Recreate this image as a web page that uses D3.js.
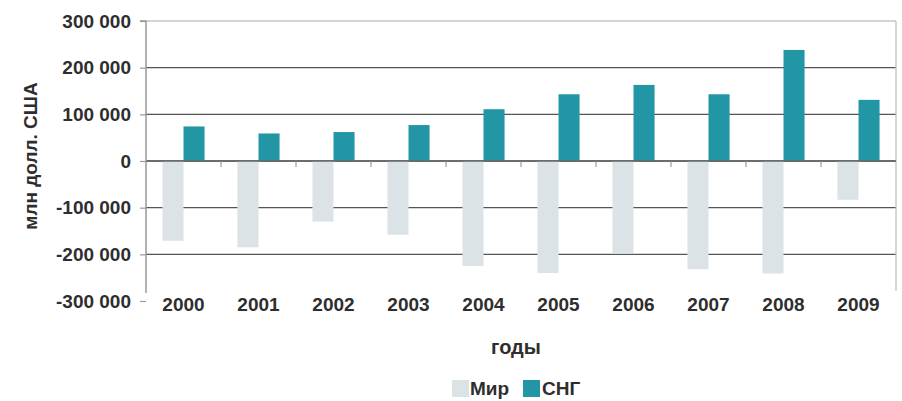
<!DOCTYPE html>
<html><head><meta charset="utf-8">
<script src="https://cdn.jsdelivr.net/npm/d3@7"></script>
<style>
body{margin:0;background:#fff;}
text{font-family:"Liberation Sans",Arial,sans-serif;font-weight:bold;fill:#2e2e2e;}
</style></head>
<body><svg id="c" width="902" height="401"></svg>
<script>
const years = ["2000","2001","2002","2003","2004","2005","2006","2007","2008","2009"];
const world = [-171000,-185000,-130000,-158000,-225000,-240000,-198000,-232000,-241000,-83000];
const cis = [74000,59000,62000,77000,111000,143000,163000,143000,238000,131000];
const yTicks = [300000,200000,100000,0,-100000,-200000,-300000];
const seriesNames = ["Мир","СНГ"];
const colors = ["#dce3e7","#2296a5"];

const svg = d3.select("#c");
const pL = 146, pR = 896, pT = 21, pB = 301;
const x = d3.scaleBand().domain(years).range([pL,pR]).padding(0);
const xi = d3.scaleBand().domain(seriesNames).range([0,x.bandwidth()]).paddingInner(0).paddingOuter(0.78);
const y = d3.scaleLinear().domain([-300000,300000]).range([pB,pT]);
const fmt = v => d3.format(",")(v).replace(/,/g," ").replace("−","-");

// gridlines
svg.append("g").selectAll("line").data(yTicks.filter(v=>v>-300000)).join("line")
  .attr("x1",pL).attr("x2",pR).attr("y1",d=>y(d)).attr("y2",d=>y(d))
  .attr("stroke",d=>d===300000?"#aaa":"#555").attr("stroke-width",d=>d===300000?1.2:1.4);
// right border
svg.append("line").attr("x1",pR).attr("x2",pR).attr("y1",pT).attr("y2",pB-10)
  .attr("stroke","#bbb").attr("stroke-width",1.2);

// bars
const data = years.map((yr,i)=>({yr, vals:[world[i],cis[i]]}));
const g = svg.append("g");
data.forEach(d=>{
  d.vals.forEach((v,k)=>{
    g.append("rect")
      .attr("x",x(d.yr)+xi(seriesNames[k]))
      .attr("width",xi.bandwidth())
      .attr("y",Math.min(y(v),y(0)))
      .attr("height",Math.abs(y(v)-y(0)))
      .attr("fill",colors[k]);
  });
});

// zero line on top
svg.append("line").attr("x1",pL).attr("x2",pR).attr("y1",y(0)).attr("y2",y(0))
  .attr("stroke","#666").attr("stroke-width",1.3);
// category ticks
svg.append("g").selectAll("line").data(years.slice(1)).join("line")
  .attr("x1",d=>x(d)).attr("x2",d=>x(d)).attr("y1",y(0)).attr("y2",y(0)+6)
  .attr("stroke","#888").attr("stroke-width",1);

// y axis
const yAxis = d3.axisLeft(y).tickValues(yTicks).tickFormat(fmt).tickSize(6).tickPadding(9);
const ya = svg.append("g").attr("transform",`translate(${pL},0)`).call(yAxis);
ya.select(".domain").attr("stroke","#999").attr("stroke-width",1.5).attr("d",`M-6,${pT}H0V${pB-8}`);
ya.selectAll(".tick line").attr("stroke","#999").attr("stroke-width",1.2);
ya.selectAll(".tick text").style("font-size","19px").style("font-family","'Liberation Sans',Arial,sans-serif").style("font-weight","bold").attr("fill","#2e2e2e");

// x labels
svg.append("g").selectAll("text").data(years).join("text")
  .attr("x",d=>x(d)+x.bandwidth()/2).attr("y",311)
  .attr("text-anchor","middle").style("font-size","19px").text(d=>d);

// axis titles
svg.append("text").attr("transform","translate(37,156) rotate(-90)")
  .attr("text-anchor","middle").style("font-size","19px").text("млн долл. США");
svg.append("text").attr("x",516).attr("y",354).attr("text-anchor","middle")
  .style("font-size","20px").text("годы");

// legend
const leg = svg.append("g");
const legItems = [{n:seriesNames[0],c:colors[0],x:452,tx:470},{n:seriesNames[1],c:colors[1],x:523,tx:542}];
legItems.forEach(it=>{
  leg.append("rect").attr("x",it.x).attr("y",380).attr("width",17).attr("height",17).attr("fill",it.c);
  leg.append("text").attr("x",it.tx).attr("y",395).style("font-size","19px").text(it.n);
});
</script></body></html>
